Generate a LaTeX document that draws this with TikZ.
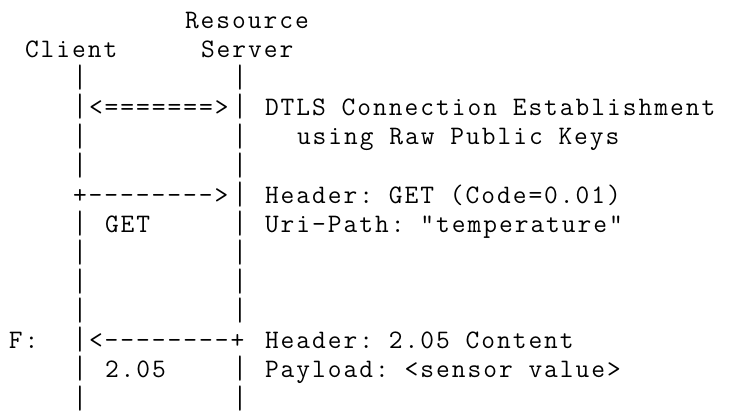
\documentclass[tikz,border=0pt]{standalone}
\usepackage{fontspec}
\usepackage{graphicx}
% typewriter face spaced out to a 16pt character pitch
\setmonofont{Latin Modern Mono}[LetterSpace=7.5]
% lifeline bar, stretched so that the bars of adjacent rows almost join
\newcommand\lifebar{\raisebox{-1.2pt}{\scalebox{1}[1.22]{|}}}
\begin{document}
\begin{tikzpicture}[x=1pt,y=1pt,
  txt/.style={anchor=base west, inner sep=0pt, outer sep=0pt,
    font=\ttfamily\fontsize{26.67}{29}\selectfont}]
% character grid: 16pt per column, 29.1pt per row
\newcommand\gridcell[4]{\node[txt] (#1) at ({9+16*#2},{-28.5-29.1*(#3-1)}) {#4};}
\fill[white] (0,0) rectangle (730,-411);
\useasboundingbox (0,0) rectangle (730,-411);
% rows 1-2: participant names
\gridcell{rs1}{11}{1}{Resource}
\gridcell{client}{1}{2}{Client}
\gridcell{rs2}{12}{2}{Server}
% lifelines of client (column 4) and server (column 14), rows 3-14
\foreach \r in {3,5,6,8,9,10,11,13,14}{
  \gridcell{cl\r}{4}{\r}{\lifebar}
  \gridcell{sv\r}{14}{\r}{\lifebar}
}
% row 4: DTLS handshake
\gridcell{cl4}{4}{4}{\lifebar}
\gridcell{dtls}{5}{4}{<=======>}
\gridcell{sv4}{14}{4}{\lifebar}
\gridcell{dtlsA}{16}{4}{DTLS Connection Establishment}
\gridcell{dtlsB}{18}{5}{using Raw Public Keys}
% rows 7-8: GET request
\gridcell{req}{4}{7}{+-------->}
\gridcell{sv7}{14}{7}{\lifebar}
\gridcell{reqA}{16}{7}{Header: GET (Code=0.01)}
\gridcell{reqL}{6}{8}{GET}
\gridcell{reqB}{16}{8}{Uri-Path: "temperature"}
% rows 12-13: response
\gridcell{flag}{0}{12}{F:}
\gridcell{cl12}{4}{12}{\lifebar}
\gridcell{resp}{5}{12}{<--------+}
\gridcell{respA}{16}{12}{Header: 2.05 Content}
\gridcell{respL}{6}{13}{2.05}
\gridcell{respB}{16}{13}{Payload: <sensor value>}
\end{tikzpicture}
\end{document}
